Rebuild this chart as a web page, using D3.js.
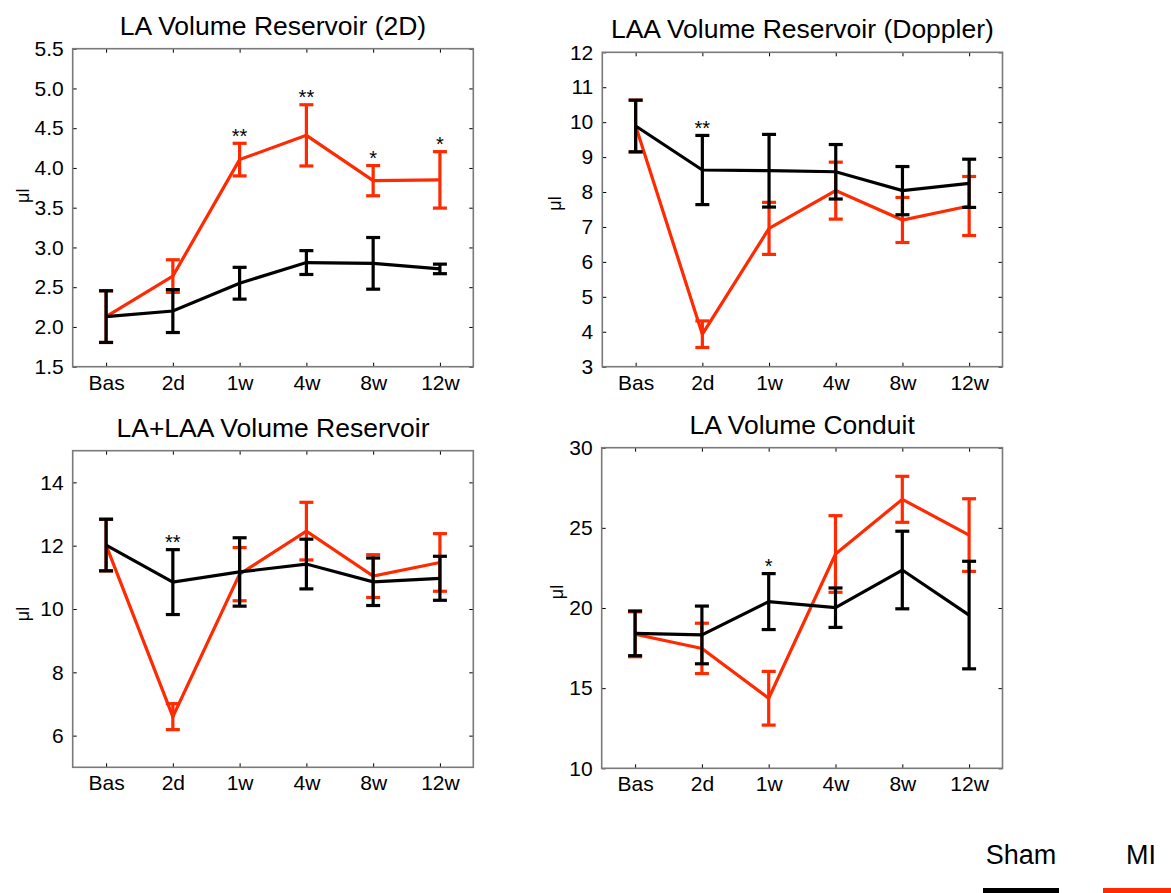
<!DOCTYPE html>
<html>
<head>
<meta charset="utf-8">
<script src="https://cdn.jsdelivr.net/npm/d3@7"></script>
<style>
  html, body { margin: 0; padding: 0; background: #fff; }
  svg { display: block; font-family: "Liberation Sans", Arial, Helvetica, sans-serif; }
</style>
</head>
<body>
<svg id="chart" width="1171" height="893"></svg>
<script>
// Time points shared by all four panels
const categories = ["Bas", "2d", "1w", "4w", "8w", "12w"];

// LA Volume Reservoir (2D): mean and SEM per time point
const laRes2dShamMean = [2.13, 2.20, 2.55, 2.81, 2.80, 2.73];
const laRes2dShamSem  = [0.325, 0.27, 0.20, 0.15, 0.325, 0.06];
const laRes2dMiMean   = [2.13, 2.64, 4.105, 4.41, 3.84, 3.85];
const laRes2dMiSem    = [0.325, 0.205, 0.205, 0.385, 0.19, 0.355];
const laRes2dSig      = ["", "", "**", "**", "*", "*"];
const laRes2dTicks    = [1.5, 2.0, 2.5, 3.0, 3.5, 4.0, 4.5, 5.0, 5.5];

// LAA Volume Reservoir (Doppler)
const laaResShamMean = [9.89, 8.63, 8.61, 8.58, 8.04, 8.25];
const laaResShamSem  = [0.74, 0.99, 1.04, 0.78, 0.69, 0.69];
const laaResMiMean   = [9.89, 3.93, 6.96, 8.04, 7.20, 7.60];
const laaResMiSem    = [0.74, 0.38, 0.745, 0.815, 0.645, 0.845];
const laaResSig      = ["", "**", "", "", "", ""];
const laaResTicks    = [3, 4, 5, 6, 7, 8, 9, 10, 11, 12];

// LA+LAA Volume Reservoir
const totalResShamMean = [12.02, 10.85, 11.17, 11.42, 10.86, 10.97];
const totalResShamSem  = [0.815, 1.025, 1.08, 0.785, 0.75, 0.695];
const totalResMiMean   = [12.02, 6.60, 11.10, 12.46, 11.04, 11.47];
const totalResMiSem    = [0.815, 0.41, 0.84, 0.91, 0.675, 0.91];
const totalResSig      = ["", "**", "", "", "", ""];
const totalResTicks    = [6, 8, 10, 12, 14];

// LA Volume Conduit
const laCondShamMean = [18.42, 18.32, 20.40, 20.02, 22.37, 19.56];
const laCondShamSem  = [1.395, 1.80, 1.745, 1.23, 2.42, 3.355];
const laCondMiMean   = [18.36, 17.48, 14.37, 23.37, 26.78, 24.55];
const laCondMiSem    = [1.40, 1.57, 1.675, 2.39, 1.435, 2.265];
const laCondSig      = ["", "", "*", "", "", ""];
const laCondTicks    = [10, 15, 20, 25, 30];

// Legend groups
const groupNames  = ["Sham", "MI"];
const groupColors = ["#000000", "#ff2a00"];

const panels = [
  { title: "LA Volume Reservoir (2D)", yDomain: [1.5, 5.5], ticks: laRes2dTicks, fmt: d3.format(".1f"),
    sham: laRes2dShamMean, shamSem: laRes2dShamSem, mi: laRes2dMiMean, miSem: laRes2dMiSem, sig: laRes2dSig,
    box: { left: 72.7, right: 473.3, top: 48.7, bottom: 366.7 }, labelX: 22.5, labelDy: -12 },
  { title: "LAA Volume Reservoir (Doppler)", yDomain: [3, 12], ticks: laaResTicks, fmt: d3.format("d"),
    sham: laaResShamMean, shamSem: laaResShamSem, mi: laaResMiMean, miSem: laaResMiSem, sig: laaResSig,
    box: { left: 602.3, right: 1002.5, top: 52.3, bottom: 366.7 }, labelX: 555, labelDy: -6 },
  { title: "LA+LAA Volume Reservoir", yDomain: [5, 15], ticks: totalResTicks, fmt: d3.format("d"),
    sham: totalResShamMean, shamSem: totalResShamSem, mi: totalResMiMean, miSem: totalResMiSem, sig: totalResSig,
    box: { left: 72.7, right: 473.3, top: 450.7, bottom: 767.3 }, labelX: 23, labelDy: 5 },
  { title: "LA Volume Conduit", yDomain: [10, 30], ticks: laCondTicks, fmt: d3.format("d"),
    sham: laCondShamMean, shamSem: laCondShamSem, mi: laCondMiMean, miSem: laCondMiSem, sig: laCondSig,
    box: { left: 601.7, right: 1002.5, top: 447.7, bottom: 768.3 }, labelX: 556.5, labelDy: -16 }
];

const svg = d3.select("#chart");
const tickLen = 4;
const capHalf = 7;
const lineW = 3.2;

panels.forEach(p => {
  const b = p.box;
  const g = svg.append("g");

  const x = d3.scalePoint().domain(categories).range([b.left, b.right]).padding(0.5);
  const y = d3.scaleLinear().domain(p.yDomain).range([b.bottom, b.top]);

  // Title
  g.append("text")
    .attr("x", (b.left + b.right) / 2)
    .attr("y", b.top - 14)
    .attr("text-anchor", "middle")
    .attr("font-size", 26.5)
    .attr("fill", "#000")
    .text(p.title);

  // Left axis with ticks pointing inward
  const yAxis = d3.axisLeft(y).tickValues(p.ticks).tickFormat(p.fmt).tickSizeInner(-tickLen).tickSizeOuter(0).tickPadding(9);
  const ya = g.append("g").attr("transform", `translate(${b.left},0)`).call(yAxis);
  ya.attr("font-family", null).attr("font-size", null);
  ya.select(".domain").remove();
  ya.selectAll(".tick line").attr("stroke", "#000");
  ya.selectAll(".tick text").attr("font-size", 21).attr("fill", "#000");

  // Right mirrored ticks
  const yr = g.append("g").attr("transform", `translate(${b.right},0)`)
    .call(d3.axisRight(y).tickValues(p.ticks).tickFormat("").tickSizeInner(-tickLen).tickSizeOuter(0));
  yr.select(".domain").remove();
  yr.selectAll(".tick line").attr("stroke", "#000");

  // Bottom axis
  const xa = g.append("g").attr("transform", `translate(0,${b.bottom})`)
    .call(d3.axisBottom(x).tickSizeInner(-tickLen).tickSizeOuter(0).tickPadding(8));
  xa.attr("font-family", null).attr("font-size", null);
  xa.select(".domain").remove();
  xa.selectAll(".tick line").attr("stroke", "#000");
  xa.selectAll(".tick text").attr("font-size", 21).attr("fill", "#000");

  // Top mirrored ticks
  const xt = g.append("g").attr("transform", `translate(0,${b.top})`)
    .call(d3.axisTop(x).tickFormat("").tickSizeInner(-tickLen).tickSizeOuter(0));
  xt.select(".domain").remove();
  xt.selectAll(".tick line").attr("stroke", "#000");

  // Axes box
  g.append("rect")
    .attr("x", b.left).attr("y", b.top)
    .attr("width", b.right - b.left).attr("height", b.bottom - b.top)
    .attr("fill", "none").attr("stroke", "#7a7a7a").attr("stroke-width", 1.6);

  // Y label
  const cy = (b.top + b.bottom) / 2 + p.labelDy;
  g.append("text")
    .attr("transform", `translate(${p.labelX},${cy}) rotate(-90)`)
    .attr("text-anchor", "middle")
    .attr("dominant-baseline", "central")
    .attr("font-size", 18)
    .attr("fill", "#000")
    .text("μl");

  // Series: MI first, Sham on top
  const series = [
    { mean: p.mi, sem: p.miSem, color: groupColors[1] },
    { mean: p.sham, sem: p.shamSem, color: groupColors[0] }
  ];
  const line = d3.line().x((d, i) => x(categories[i])).y(d => y(d));

  series.forEach(s => {
    const sg = g.append("g");
    sg.append("path")
      .datum(s.mean)
      .attr("d", line)
      .attr("fill", "none")
      .attr("stroke", s.color)
      .attr("stroke-width", lineW)
      .attr("stroke-linejoin", "miter");

    const eb = sg.selectAll("g.err").data(s.mean.map((m, i) => ({ c: categories[i], lo: m - s.sem[i], hi: m + s.sem[i] })))
      .join("g").attr("class", "err");
    eb.append("line")
      .attr("x1", d => x(d.c)).attr("x2", d => x(d.c))
      .attr("y1", d => y(d.lo)).attr("y2", d => y(d.hi))
      .attr("stroke", s.color).attr("stroke-width", lineW);
    eb.append("line")
      .attr("x1", d => x(d.c) - capHalf).attr("x2", d => x(d.c) + capHalf)
      .attr("y1", d => y(d.hi)).attr("y2", d => y(d.hi))
      .attr("stroke", s.color).attr("stroke-width", lineW);
    eb.append("line")
      .attr("x1", d => x(d.c) - capHalf).attr("x2", d => x(d.c) + capHalf)
      .attr("y1", d => y(d.lo)).attr("y2", d => y(d.lo))
      .attr("stroke", s.color).attr("stroke-width", lineW);
  });

  // Significance markers above the taller error bar
  p.sig.forEach((s, i) => {
    if (!s) return;
    const top = Math.max(p.sham[i] + p.shamSem[i], p.mi[i] + p.miSem[i]);
    g.append("text")
      .attr("x", x(categories[i]))
      .attr("y", y(top) - 0.5)
      .attr("text-anchor", "middle")
      .attr("font-size", 20)
      .attr("fill", "#000")
      .text(s);
  });
});

// Legend
const legendItems = [
  { name: groupNames[0], color: groupColors[0], cx: 1021 },
  { name: groupNames[1], color: groupColors[1], cx: 1141 }
];
const lg = svg.append("g");
legendItems.forEach(it => {
  lg.append("text")
    .attr("x", it.cx).attr("y", 864)
    .attr("text-anchor", "middle")
    .attr("font-size", 27)
    .attr("fill", "#000")
    .text(it.name);
  lg.append("rect")
    .attr("x", it.cx - 38).attr("y", 888)
    .attr("width", 76).attr("height", 6)
    .attr("fill", it.color);
});
</script>
</body>
</html>
